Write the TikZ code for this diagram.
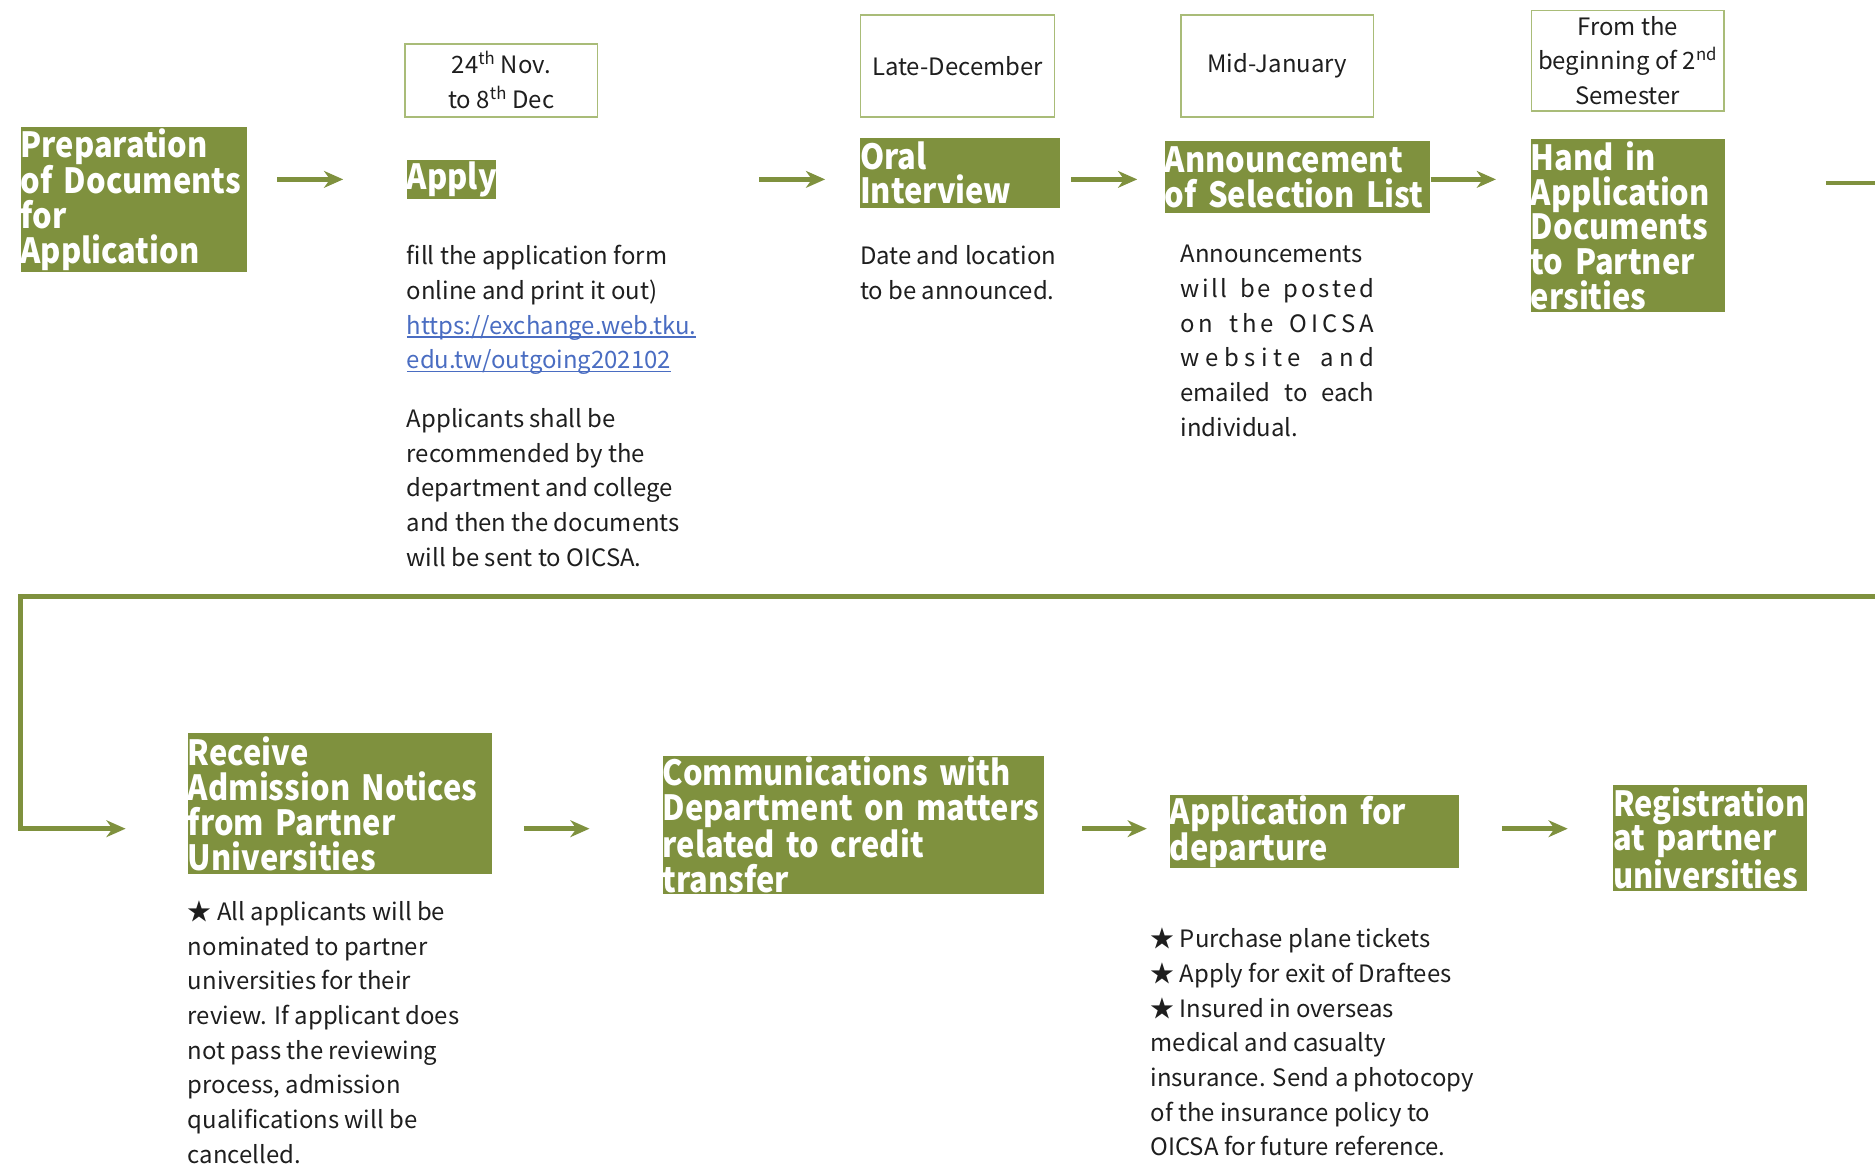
\documentclass[tikz,border=0pt]{standalone}
\usepackage{fontspec}
\setmainfont{Noto Sans CJK TC}
\newfontfamily\headfam[FakeStretch=0.89]{Noto Sans CJK TC}
\usetikzlibrary{arrows.meta}
\definecolor{olive}{HTML}{7F913E}
\definecolor{oliveline}{HTML}{A9BC78}
\definecolor{linkblue}{HTML}{4A6DC2}
\definecolor{ink}{HTML}{1E1E1E}
\newcommand\headfont{\headfam\bfseries\fontsize{29}{29}\selectfont\hyphenpenalty=10000\exhyphenpenalty=10000 }
\newcommand\bodyfont{\fontsize{20}{29}\selectfont\hyphenpenalty=10000 }
\newcommand\lnk[1]{{\color{linkblue}\setbox0\hbox{#1}\rlap{\rule[-3pt]{\wd0}{1.1pt}}\box0}}
\tikzset{
  head/.style={fill=olive, text=white, font=\headfont, inner sep=0pt, anchor=north west, align=left},
  body/.style={font=\bodyfont, text=ink, inner sep=0pt, anchor=north west, align=left},
  datebox/.style={draw=oliveline, line width=1.3pt, fill=white, font=\bodyfont, text=ink, align=center, anchor=north west, inner sep=0pt},
  arr/.style={draw=olive, line width=4pt, -{Stealth[length=16pt,width=14pt,inset=5pt]}},
  link/.style={draw=olive, line width=4pt}
}
\begin{document}
\begin{tikzpicture}[x=1pt,y=-1pt]
\useasboundingbox[fill=white] (0,0) rectangle (1568,975);
% headings
\node[head, text width=189pt, minimum height=121pt] (prep) at (17,106) {Preparation\\of Documents\\for\\Application};
\node[head, text width=75pt, minimum height=32pt] (apply) at (340,134) {Apply};
\node[head, text width=167pt, minimum height=59pt] (oral) at (719,115) {Oral\\Interview};
\node[head, text width=222pt, minimum height=60pt] (ann) at (974,118) {Announcement\\of Selection List};
\node[head, text width=162pt, minimum height=145pt] (hand) at (1280,116) {Hand in\\Application\\Documents\\to Partner\\ersities};
\node[head, text width=254pt, minimum height=118pt] (recv) at (157,613) {Receive\\Admission Notices\\from Partner\\Universities};
\node[head, text width=319pt, minimum height=115pt] (comm) at (554,632) {Communications with\\Department on matters\\related to credit\\transfer};
\node[head, text width=242pt, minimum height=58pt] (dep) at (978,665) {Application for\\departure};
\node[head, text width=162pt, minimum height=89pt] (reg) at (1349,656) {Registration\\at partner\\universities};
% date boxes
\node[datebox, minimum width=161pt, minimum height=61pt] (d1) at (338,36) {24\textsuperscript{th} Nov.\\to 8\textsuperscript{th} Dec};
\node[datebox, minimum width=162pt, minimum height=85pt] (d2) at (719,12) {Late-December};
\node[datebox, minimum width=161pt, minimum height=85pt] (d3) at (987,12) {Mid-January};
\node[datebox, minimum width=161pt, minimum height=84pt] (d4) at (1280,8) {From the\\beginning of 2\textsuperscript{nd}\\Semester};
% body texts
\node[body] (applytext) at (340,205) {fill the application form\\online and print it out)\\\lnk{https://exchange.web.tku.}\\\lnk{edu.tw/outgoing202102}\\[20pt]Applicants shall be\\recommended by the\\department and college\\and then the documents\\will be sent to OICSA.};
\node[body] (oraltext) at (719,205) {Date and location\\to be announced.};
\node[body, text width=162pt] (anntext) at (987,205) {Announcements\\w\hfill i\hfill l\hfill l\hfill\ \hfill b\hfill e\hfill\ \hfill p\hfill o\hfill s\hfill t\hfill e\hfill d\\o\hfill n\hfill\ \hfill t\hfill h\hfill e\hfill\ \hfill O\hfill I\hfill C\hfill S\hfill A\\w\hfill e\hfill b\hfill s\hfill i\hfill t\hfill e\hfill\ \hfill a\hfill n\hfill d\\emailed\hfill to\hfill each\\individual.};
\node[body] (recvtext) at (157,753) {★ All applicants will be\\nominated to partner\\universities for their\\review. If applicant does\\not pass the reviewing\\process, admission\\qualifications will be\\cancelled.};
\node[body] (deptext) at (962,776) {★ Purchase plane tickets\\★ Apply for exit of Draftees\\★ Insured in overseas\\medical and casualty\\insurance. Send a photocopy\\of the insurance policy to\\OICSA for future reference.};
% connector coordinates
\coordinate (a1s) at (232,150); \coordinate (a1e) at (287,150);
\coordinate (a2s) at (635,150); \coordinate (a2e) at (690,150);
\coordinate (a3s) at (896,150); \coordinate (a3e) at (951,150);
\coordinate (a4e) at (1251,150);
\coordinate (b1s) at (438,693); \coordinate (b1e) at (493,693);
\coordinate (b2s) at (905,693); \coordinate (b2e) at (959,693);
\coordinate (b3s) at (1256,693); \coordinate (b3e) at (1311,693);
\coordinate (r1s) at (1527,153); \coordinate (r1e) at (1568,153);
\coordinate (l1) at (1568,499); \coordinate (l2) at (17,499);
\coordinate (l3) at (17,693); \coordinate (l4) at (105,693);
% connectors
\draw[arr] (a1s) -- (a1e);
\draw[arr] (a2s) -- (a2e);
\draw[arr] (a3s) -- (a3e);
\draw[arr] (ann.east |- a4e) -- (a4e);
\draw[arr] (b1s) -- (b1e);
\draw[arr] (b2s) -- (b2e);
\draw[arr] (b3s) -- (b3e);
\draw[link] (r1s) -- (r1e);
\draw[arr] (l1) -- (l2) -- (l3) -- (l4);
\end{tikzpicture}
\end{document}
